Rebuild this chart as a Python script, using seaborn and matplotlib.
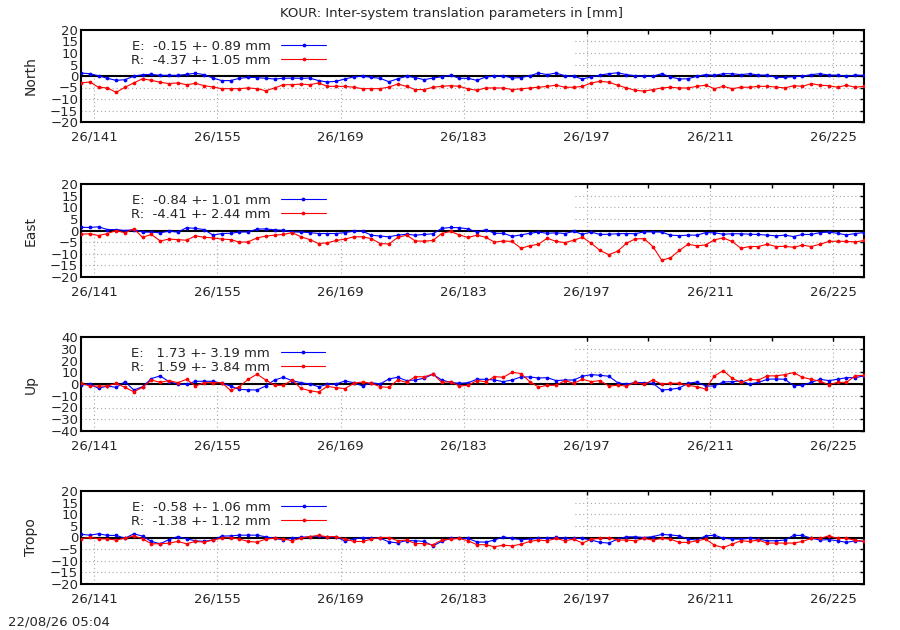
import numpy as np
import matplotlib
matplotlib.use('agg')
import matplotlib.pyplot as plt
import seaborn as sns
from matplotlib.patches import Rectangle

# --- data (one value per day, days 139..228)

doy = np.arange(139, 229)
x_days = doy + 0.5          # daily solutions plotted at noon

major_days = [141, 155, 169, 183, 197, 211, 225]
minor_days = [148, 162, 176, 190, 204, 218]
tick_labels = ["26/141", "26/155", "26/169", "26/183", "26/197", "26/211", "26/225"]

north_e = [1.3, 1.0, 0.1, -1.0, -1.9, -1.6, -0.1, 0.6, 0.7, 0.3,
           0.3, 0.3, 0.7, 1.2, 0.6, -0.9, -2.0, -2.0, -1.0, -0.6,
           -0.7, -1.0, -1.3, -1.0, -0.9, -1.0, -0.9, -2.0, -2.6, -2.3,
           -1.3, -0.4, -0.1, -0.6, -1.0, -2.5, -1.2, -0.1, -0.7, -1.6,
           -0.9, -0.3,
           0.3, -1.0, -1.0, -1.9, -0.4, -0.1, 0.1, -0.9, -0.7, 0.1,
           1.3, 0.6, 1.3, 0.1, -0.1, -1.3, -0.4, 0.4, 1.0, 1.4,
           0.6, 0.1, -0.1, -0.1, 1.0, -0.4, -1.3, -1.2, -0.1, 0.6,
           0.3, 1.0, 1.0, 0.6, 1.0, 0.4, 0.4, -0.6, -0.6, -0.3,
           -0.1, 0.6, 1.0, 0.4, 0.4, -0.1, 0.4, 0.3]
north_r = [-3.0, -2.6, -4.9, -5.2, -7.1, -4.9, -3.0, -1.2, -1.9, -2.7,
           -3.3, -3.0, -3.8, -3.2, -4.2, -4.8, -5.5, -5.5, -5.5, -5.2,
           -5.5, -6.4, -5.2, -3.8, -3.8, -3.5, -3.8, -3.0, -4.5, -4.5,
           -4.5, -4.9, -5.5, -5.5, -5.5, -4.8, -3.5, -4.5, -5.9, -5.9,
           -4.9, -4.5,
           -4.2, -4.5, -5.6, -6.2, -5.2, -5.2, -5.2, -5.9, -5.6, -5.2,
           -4.9, -4.5, -4.0, -4.9, -4.9, -4.5, -3.0, -2.3, -2.7, -4.0,
           -5.2, -6.2, -6.6, -5.9, -5.2, -4.9, -5.2, -5.2, -4.5, -4.0,
           -5.5, -4.5, -5.5, -4.9, -4.9, -4.5, -4.5, -4.8, -5.2, -4.2,
           -4.5, -3.3, -4.0, -4.2, -4.9, -4.0, -4.9, -4.5]

east_e = [1.4, 1.3, 1.6, 0.4, 0.4, 0.0, 0.4, -0.7, -0.7, -1.0,
          -0.3, -0.7, 1.2, 0.9, 0.4, -2.0, -1.3, -1.2, -0.7, -0.6,
          0.6, 0.7, 0.3, 0.1, -0.6, -0.7, -0.9, -1.3, -1.3, -1.3,
          -0.9, -0.3, -0.3, -2.0, -2.4, -2.7, -2.0, -1.6, -2.0, -1.7,
          -1.4, 0.9,
          1.3, 1.2, 0.7, -0.7, 0.4, -1.2, -1.2, -2.5, -1.9, -1.2,
          -0.7, -1.2, -1.0, -1.3, -0.4, -1.6, -0.7, -1.7, -1.6, -1.4,
          -1.3, -1.4, -0.6, -0.6, -0.7, -2.0, -2.2, -2.0, -2.0, -0.9,
          -1.0, -1.6, -1.4, -1.4, -1.6, -1.7, -2.0, -2.3, -2.0, -2.6,
          -1.7, -1.7, -0.9, -0.7, -1.2, -1.9, -1.3, -0.9]
east_r = [-1.6, -1.4, -2.2, -1.3, 0.0, -1.0, 0.7, -2.9, -1.7, -4.5,
          -3.7, -3.9, -4.2, -2.3, -2.9, -3.2, -3.7, -3.9, -5.0, -4.9,
          -3.2, -2.4, -2.0, -1.7, -0.9, -2.7, -3.9, -5.6, -5.3, -4.3,
          -3.7, -2.7, -2.7, -3.5, -5.6, -5.8, -3.0, -2.0, -4.5, -4.6,
          -4.3, -1.3,
          -0.4, -1.9, -3.0, -2.0, -2.9, -5.0, -4.5, -4.7, -7.6, -6.6,
          -5.9, -3.3, -4.7, -5.2, -4.2, -2.9, -5.5, -8.6, -10.4, -8.9,
          -5.5, -3.6, -3.5, -6.9, -12.7, -11.8, -8.6, -5.9, -6.6, -6.2,
          -4.0, -3.2, -4.7, -7.6, -6.9, -6.9, -5.9, -6.9, -6.8, -7.2,
          -6.3, -6.9, -5.9, -4.7, -4.6, -4.7, -4.9, -4.3]

up_e = [-0.9, 0.0, -3.7, -1.7, -2.9, 2.0, -5.1, -2.3, 4.6, 6.9,
        2.0, 0.0, -0.3, 2.3, 2.3, 2.3, 0.6, -1.7, -4.6, -4.9,
        -5.1, -1.7, 3.4, 5.7, 2.9, 1.1, 0.0, -2.3, -0.3, 0.0,
        2.6, 1.1, -1.7, 1.1, 0.0, 4.3, 5.7, 2.9, 3.4, 4.9,
        8.3, 3.4,
        1.4, 0.6, 1.1, 4.0, 4.0, 3.4, 2.0, 3.4, 6.0, 6.0,
        5.1, 5.4, 2.9, 3.4, 3.4, 6.6, 8.0, 7.4, 6.6, 1.1,
        -0.3, 1.4, 1.1, 0.6, -5.1, -4.6, -3.4, 0.6, 1.7, -1.7,
        -1.7, 1.7, 2.0, 2.6, 0.0, 1.4, 4.0, 4.3, 4.0, -1.4,
        -1.1, 1.4, 4.0, 2.9, 4.0, 5.4, 5.4, 6.9]
up_r = [0.6, -1.7, -1.7, -1.7, 0.6, -2.9, -6.6, -2.9, 3.4, 1.4,
        2.9, 1.1, 4.0, -1.7, 1.1, 1.1, 1.1, -5.4, -2.3, 4.0,
        8.3, 3.4, -1.1, -1.1, 3.4, -3.7, -5.7, -6.9, -2.0, -3.1,
        -4.0, 0.6, 1.7, 0.6, -2.3, -2.9, 3.4, 1.4, 6.3, 6.0,
        8.6, 1.4,
        2.0, -1.7, -1.1, 2.9, 2.0, 6.3, 5.7, 10.0, 8.9, 2.0,
        -2.6, -1.1, -1.1, 2.9, 0.6, 4.0, 2.0, 2.9, -1.7, -1.1,
        -1.7, 1.4, -0.3, 3.4, 0.0, 0.6, 0.6, -1.1, -2.3, -4.3,
        6.9, 11.4, 4.9, 1.4, 4.0, 3.4, 6.9, 6.9, 8.0, 9.7,
        5.7, 4.0, 2.3, -0.6, 1.4, 1.4, 6.9, 7.4]

tropo_e = [1.4, 1.0, 1.6, 0.9, 0.9, -0.3, 1.6, 0.6, -1.7, -2.7,
           -0.9, 0.4, -0.6, -1.4, -1.7, -1.0, 0.6, 0.7, 1.0, 1.0,
           1.0, 0.3, -0.4, -1.0, -0.3, 0.1, 0.3, 0.6, 0.1, 0.4,
           -1.6, -0.7, 0.0, -0.3, -0.3, -1.9, -2.3, -1.3, -1.4, -1.7,
           -3.6, -1.7,
           -0.3, -0.4, -0.4, -1.9, -2.0, -1.1, 0.3, -0.4, -0.9, -0.7,
           -0.4, -0.4, 0.1, -0.4, -0.4, -0.4, -1.1, -2.1, -2.4, -0.7,
           0.3, 0.3, 0.0, 0.4, 1.3, 1.1, 0.7, -0.7, -1.1, 0.7,
           1.0, -0.3, -0.7, -0.7, -0.4, -0.7, -1.4, -1.4, -1.1, 0.9,
           0.9, -0.3, -1.1, -0.9, -1.4, -2.1, -1.4, -1.7]
tropo_r = [-0.6, 0.1, -0.6, -0.6, -1.1, -0.3, 0.7, -0.6, -2.7, -2.7,
           -2.4, -1.7, -2.7, -1.7, -2.0, -1.1, -0.3, 0.0, -0.7, -1.7,
           -2.0, -0.7, -0.3, -0.6, -1.4, -0.3, 0.4, 0.9, 0.3, 0.4,
           -0.7, -1.7, -1.7, -0.7, 0.0, 0.0, -1.4, -1.1, -2.6, -2.6,
           -3.1, -1.1,
           -0.7, -0.4, -1.4, -3.1, -3.1, -4.0, -3.3, -3.6, -2.9, -1.7,
           -1.1, -1.4, -0.4, -1.4, -0.7, -2.4, -0.7, -0.4, 0.0, -1.1,
           -1.1, -1.4, -0.4, -1.1, -0.4, -0.7, -2.1, -2.1, -1.4, -0.7,
           -3.3, -4.3, -2.9, -1.4, -1.7, -1.1, -2.4, -2.4, -2.4, -2.4,
           -1.7, -0.4, -0.4, 0.7, -0.4, -0.4, -1.1, -1.7]

components = ["North", "East", "Up", "Tropo"]
series_e = [north_e, east_e, up_e, tropo_e]
series_r = [north_r, east_r, up_r, tropo_r]
labels_e = ["E:  -0.15 +- 0.89 mm", "E:  -0.84 +- 1.01 mm",
            "E:   1.73 +- 3.19 mm", "E:  -0.58 +- 1.06 mm"]
labels_r = ["R:  -4.37 +- 1.05 mm", "R:  -4.41 +- 2.44 mm",
            "R:   1.59 +- 3.84 mm", "R:  -1.38 +- 1.12 mm"]
y_limits = [20, 20, 40, 20]
y_steps = [5, 5, 10, 5]

title = "KOUR: Inter-system translation parameters in [mm]"
stamp = "22/08/26 05:04"

# --- figure

sns.set_style("white")
plt.rcParams['font.family'] = ['DejaVu Sans']
fs = 9.5

fig = plt.figure(figsize=(9.0, 6.3), dpi=100)

boxes = [(30, 122), (184, 277), (337, 431), (491, 584)]

for i, comp in enumerate(components):
    top, bot = boxes[i]
    ax = fig.add_axes([81 / 900, 1 - bot / 630, 783 / 900, (bot - top) / 630])
    ax.set_axisbelow(True)

    lim = y_limits[i]
    ax.set_xlim(139.5, 228.5)
    ax.set_ylim(-lim, lim)
    ax.set_yticks(np.arange(-lim, lim + 1, y_steps[i]))
    ax.set_xticks(major_days, labels=tick_labels)
    ax.set_xticks(minor_days, minor=True)

    ax.grid(True, which='major', color='#a8a8a8', linestyle=(0, (1, 2.5)), linewidth=0.8)

    # opaque key box hides the grid behind the legend
    ax.add_patch(Rectangle((0, 0.52), 0.628, 0.48, transform=ax.transAxes,
                           facecolor='white', edgecolor='none', zorder=0.8))
    ax.axhline(0, color='black', linewidth=1.5, zorder=1.5)

    sns.lineplot(x=x_days, y=series_e[i], color='blue', marker='o', markersize=2.7,
                 markeredgewidth=0, linewidth=0.8, label=labels_e[i], ax=ax, zorder=3)
    sns.lineplot(x=x_days, y=series_r[i], color='red', marker='o', markersize=2.7,
                 markeredgewidth=0, linewidth=0.8, label=labels_r[i], ax=ax, zorder=3)

    ax.legend(loc='upper left', bbox_to_anchor=((131 - 81) / 783, 1 - 10 / (bot - top)),
              frameon=False, markerfirst=False, fontsize=fs, borderpad=0,
              borderaxespad=0, handlelength=3.4, handletextpad=0.8,
              labelspacing=0.05, numpoints=1)

    for side in ['top', 'bottom', 'left', 'right']:
        ax.spines[side].set_linewidth(1.5)
        ax.spines[side].set_color('black')

    ax.tick_params(which='both', direction='in', top=True, right=True,
                   length=3, width=1, color='black', labelsize=fs)
    ax.tick_params(axis='x', pad=6)
    ax.tick_params(axis='y', pad=2)

    ax.set_ylabel(comp, fontsize=fs + 0.5)
    ax.yaxis.set_label_coords(-0.055, 0.5)
    ax.set_xlabel("")

fig.text(452 / 900, 1 - 13 / 630, title, ha='center', va='center', fontsize=fs)
fig.text(8 / 900, 1 - 622 / 630, stamp, ha='left', va='center', fontsize=fs)

fig.savefig("out.png", dpi=100)
print('Info:   ', 'Normal termination')
